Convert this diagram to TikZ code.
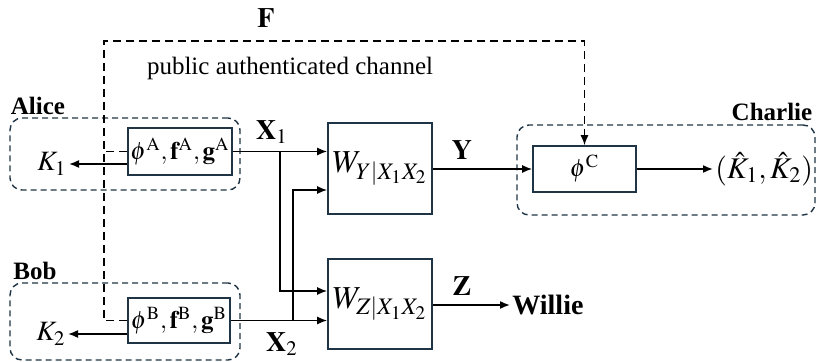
\documentclass[tikz,border=0pt]{standalone}
\usepackage{mathptmx}
\usepackage{fontspec}
\setmainfont{Liberation Serif}
\usetikzlibrary{arrows.meta}
\definecolor{boxline}{RGB}{31,52,68}

\begin{document}
\begin{tikzpicture}[x=0.5pt, y=-0.5pt,
    >={Latex[length=5pt,width=4pt]},
    every node/.style = {inner sep=1pt, font=\fontsize{12.5}{15}\selectfont},
    blk/.style = {draw=boxline, line width=0.8pt, align=center},
    grp/.style = {draw=boxline, dashed, dash pattern=on 3pt off 2pt,
      line width=0.7pt, rounded corners=6pt},
    chan/.style = {dashed, dash pattern=on 4pt off 2.5pt, line width=0.7pt},
    sig/.style = {line width=0.8pt},
    who/.style = {font=\bfseries\fontsize{12.5}{15}\selectfont},
    lbl/.style = {font=\fontsize{14}{16}\selectfont}]
    \useasboundingbox (0,0) rectangle (817,362);
    % parties
    \node[grp, minimum width=115pt, minimum height=36pt] (alice) at (125,154) {};
    \node[grp, minimum width=115pt, minimum height=38.5pt] (bob) at (125,321.5) {};
    \node[grp, minimum width=149pt, minimum height=45pt] (charlie) at (666,170) {};
    \node[who] at (38,106) {Alice};
    \node[who] at (35,271) {Bob};
    \node[who] at (772,112) {Charlie};
    % encoders, channels, decoder
    \node[blk, minimum width=52pt, minimum height=23.5pt] (encA) at (180,151.5)
      {$\phi^{\mathrm{A}},\mathbf{f}^{\mathrm{A}},\mathbf{g}^{\mathrm{A}}$};
    \node[blk, minimum width=51pt, minimum height=22.5pt] (encB) at (179,320.5)
      {$\phi^{\mathrm{B}},\mathbf{f}^{\mathrm{B}},\mathbf{g}^{\mathrm{B}}$};
    \node[blk, minimum width=52pt, minimum height=45.5pt, font=\fontsize{16}{18}\selectfont]
      (WY) at (380,168.5) {$W_{Y|X_1X_2}$};
    \node[blk, minimum width=52pt, minimum height=45pt, font=\fontsize{16}{18}\selectfont]
      (WZ) at (380,304) {$W_{Z|X_1X_2}$};
    \node[blk, minimum width=51.5pt, minimum height=23pt] (decC) at (584.5,169)
      {$\phi^{\mathrm{C}}$};
    % outputs
    \node[lbl, anchor=east] (K1) at (69,164) {$K_1$};
    \node[lbl, anchor=east] (K2) at (68,334) {$K_2$};
    \node[lbl, anchor=west, font=\fontsize{15}{17}\selectfont] (Khat) at (713,169)
      {$(\hat{K}_1,\hat{K}_2)$};
    \node[anchor=west, font=\bfseries\fontsize{14}{16}\selectfont] (willie) at (510,305) {Willie};
    % signal labels
    \node[lbl] (X1) at (272,132) {$\mathbf{X}_1$};
    \node[lbl] (X2) at (282,344) {$\mathbf{X}_2$};
    \node[lbl] (Y) at (462,150) {$\mathbf{Y}$};
    \node[lbl] (Z) at (462,286) {$\mathbf{Z}$};
    \node[lbl] (F) at (266,18) {$\mathbf{F}$};
    \node (pub) at (290,68) {public authenticated channel};
    \coordinate (ctl) at (104,41);
    \coordinate (s1) at (280,151.5);
    \coordinate (s2) at (293,320.5);
    % connectors
    \draw[sig,->] (encA.east) -- (encA.east -| WY.west);
    \draw[sig,->] (encB.east) -- (encB.east -| WZ.west);
    \draw[sig,->] (s1) |- ([yshift=6.5pt]WZ.west);
    \draw[sig,->] (s2) |- ([yshift=-10.75pt]WY.west);
    \draw[sig,->] (encA.west |- K1.east) -- (K1.east);
    \draw[sig,->] (encB.west |- K2.east) -- (K2.east);
    \draw[sig,->] (WY.east |- decC.west) -- (decC.west);
    \draw[sig,->] (decC.east) -- (Khat.west);
    \draw[sig,->] (WZ.east |- willie.west) -- (willie.west);
    \draw[chan,->] (encB.west) -| (ctl) -| (decC.north);
    \draw[chan] (encA.west) -- (encA.west -| ctl);
\end{tikzpicture}
\end{document}
